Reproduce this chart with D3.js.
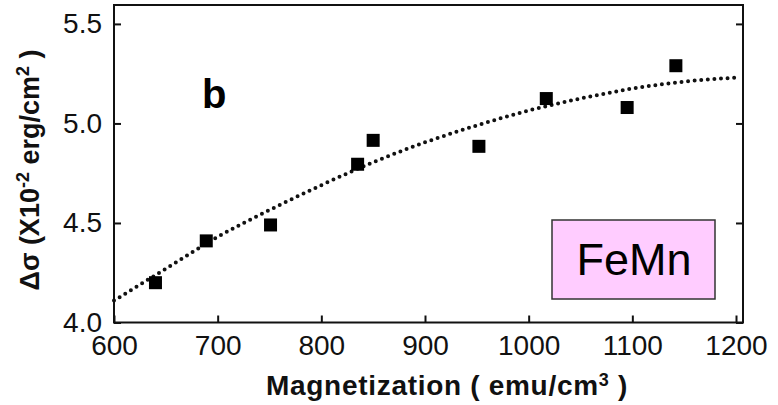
<!DOCTYPE html>
<html>
<head>
<meta charset="utf-8">
<script src="https://cdn.jsdelivr.net/npm/d3@7"></script>
<style>
  html, body { margin: 0; padding: 0; background: #fff; }
  svg { display: block; font-family: "Liberation Sans", Arial, sans-serif; }
</style>
</head>
<body>
<svg id="chart" width="778" height="405"></svg>
<script>
// measured points
const magnetization = [640, 689, 751, 835, 850, 952, 1017, 1095, 1142];
const deltaSigma = [4.20, 4.41, 4.49, 4.795, 4.915, 4.885, 5.125, 5.08, 5.29];

// dotted fit curve
const fitX = [600, 650, 700, 750, 800, 850, 900, 950, 1000, 1050, 1100, 1150, 1200];
const fitY = [4.11, 4.27, 4.43, 4.565, 4.69, 4.805, 4.905, 4.99, 5.065, 5.125, 5.175, 5.21, 5.23];

const xTicks = [600, 700, 800, 900, 1000, 1100, 1200];
const yTicks = [4.0, 4.5, 5.0, 5.5];

const svg = d3.select("#chart");
const plotLeft = 114, plotRight = 743, plotTop = 5, plotBottom = 322.5;

const x = d3.scaleLinear().domain([600, 1206.75]).range([plotLeft, plotRight]);
const y = d3.scaleLinear().domain([4.0, 5.595]).range([plotBottom, plotTop]);

// frame
svg.append("rect")
    .attr("x", plotLeft).attr("y", plotTop)
    .attr("width", plotRight - plotLeft).attr("height", plotBottom - plotTop)
    .attr("fill", "none").attr("stroke", "#111").attr("stroke-width", 2);

const xAxis = svg.append("g")
    .attr("transform", `translate(0,${plotBottom})`)
    .call(d3.axisBottom(x).tickValues(xTicks).tickSizeInner(-7).tickSizeOuter(0).tickPadding(13)
      .tickFormat(d3.format("d")));
const yAxis = svg.append("g")
    .attr("transform", `translate(${plotLeft},0)`)
    .call(d3.axisLeft(y).tickValues(yTicks).tickSizeInner(-7).tickSizeOuter(0).tickPadding(12)
      .tickFormat(d3.format(".1f")));
// right side ticks
const yRight = svg.append("g")
    .attr("transform", `translate(${plotRight},0)`)
    .call(d3.axisRight(y).tickValues(yTicks).tickSizeInner(-7).tickSizeOuter(0).tickFormat(""));
yRight.select(".domain").remove();

[xAxis, yAxis].forEach(g => {
  g.select(".domain").remove();
  g.selectAll("text").attr("font-size", 28).attr("fill", "#111")
    .attr("font-family", "Liberation Sans, Arial, sans-serif");
});
svg.selectAll(".tick line").attr("stroke", "#111").attr("stroke-width", 2);

// fitted curve
const line = d3.line()
    .x((d, i) => x(fitX[i]))
    .y(d => y(d))
    .curve(d3.curveMonotoneX);
svg.append("path")
    .datum(fitY)
    .attr("d", line)
    .attr("fill", "none")
    .attr("stroke", "#111")
    .attr("stroke-width", 4)
    .attr("stroke-linecap", "round")
    .attr("stroke-dasharray", "0 6.6");

// squares
const sz = 13;
svg.append("g").selectAll("rect")
  .data(magnetization)
  .join("rect")
    .attr("x", d => x(d) - sz / 2)
    .attr("y", (d, i) => y(deltaSigma[i]) - sz / 2)
    .attr("width", sz).attr("height", sz)
    .attr("fill", "#000");

// panel letter
svg.append("text")
    .attr("x", 202).attr("y", 108)
    .attr("font-size", 40).attr("font-weight", "bold")
    .text("b");

// FeMn label box
svg.append("rect")
    .attr("x", 552).attr("y", 220).attr("width", 163).attr("height", 79)
    .attr("fill", "#ffccff").attr("stroke", "#333").attr("stroke-width", 1.5);
svg.append("text")
    .attr("x", 634).attr("y", 275)
    .attr("text-anchor", "middle")
    .attr("font-size", 45)
    .text("FeMn");

// x axis title
const xt = svg.append("text")
    .attr("x", 447).attr("y", 395)
    .attr("text-anchor", "middle")
    .attr("font-size", 28).attr("font-weight", "bold")
    .attr("letter-spacing", 0.7)
    .attr("fill", "#111");
xt.append("tspan").text("Magnetization ( emu/cm");
xt.append("tspan").attr("font-size", 18).attr("dy", -9).text("3");
xt.append("tspan").attr("dy", 9).text(" )");

// y axis title
const yt = svg.append("text")
    .attr("transform", "translate(39,170) rotate(-90)")
    .attr("text-anchor", "middle")
    .attr("font-size", 27).attr("font-weight", "bold")
    .attr("fill", "#111");
yt.append("tspan").text("Δσ (X10");
yt.append("tspan").attr("font-size", 18).attr("dy", -10).text("-2");
yt.append("tspan").attr("dy", 10).text(" erg/cm");
yt.append("tspan").attr("font-size", 18).attr("dy", -10).text("2");
yt.append("tspan").attr("dy", 10).text(" )");
</script>
</body>
</html>
